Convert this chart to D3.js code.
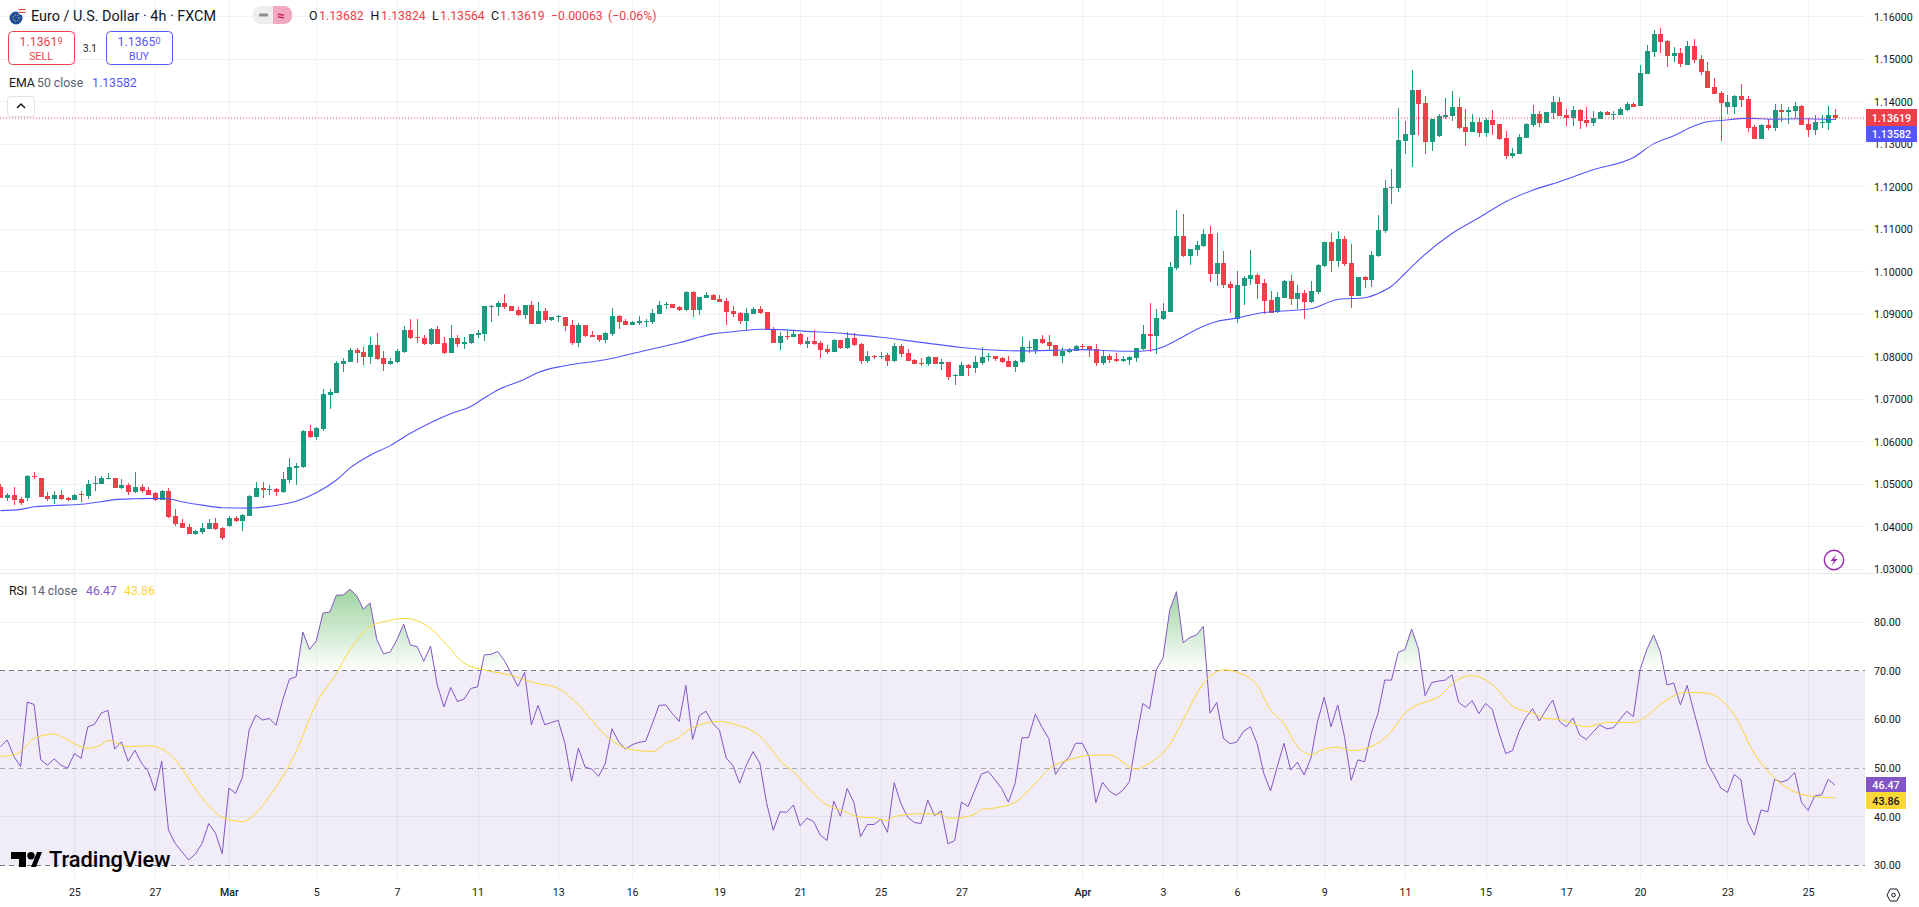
<!DOCTYPE html>
<html>
<head>
<meta charset="utf-8">
<title>EUR/USD 4h</title>
<script src="https://cdnjs.cloudflare.com/ajax/libs/d3/7.8.5/d3.min.js"></script>
<style>
html, body { margin: 0; padding: 0; background: #fff; overflow: hidden; }
svg { display: block; font-family: Roboto, sans-serif; }
</style>
</head>
<body>
<svg id="chart"></svg>
<script>
// candle values, one entry per 4h bar
const opens = [
1.0493,1.0467,1.0476,1.0465,1.0468,1.0520,1.0516,1.0472,1.0465,1.0474,
1.0467,1.0462,1.0477,1.0472,1.0501,1.0500,1.0512,1.0516,1.0491,1.0498,
1.0481,1.0493,1.0486,1.0479,1.0462,1.0484,1.0425,1.0408,1.0399,1.0382,
1.0387,1.0394,1.0408,1.0397,1.0401,1.0420,1.0413,1.0425,1.0469,1.0491,
1.0486,1.0488,1.0481,1.0509,1.0538,1.0540,1.0626,1.0612,1.0630,1.0710,
1.0715,1.0783,1.0788,1.0816,1.0811,1.0800,1.0828,1.0797,1.0783,1.0788,
1.0811,1.0863,1.0847,1.0844,1.0830,1.0866,1.0833,1.0809,1.0844,1.0830,
1.0833,1.0851,1.0854,1.0917,1.0917,1.0927,1.0920,1.0910,1.0899,1.0922,
1.0877,1.0908,1.0887,1.0893,1.0894,1.0875,1.0833,1.0875,1.0851,1.0851,
1.0840,1.0854,1.0896,1.0884,1.0875,1.0880,1.0883,1.0882,1.0901,1.0922,
1.0924,1.0917,1.0910,1.0953,1.0910,1.0938,1.0945,1.0936,1.0931,1.0908,
1.0903,1.0884,1.0901,1.0913,1.0906,1.0866,1.0833,1.0849,1.0847,1.0854,
1.0830,1.0837,1.0833,1.0818,1.0811,1.0840,1.0821,1.0844,1.0830,1.0790,
1.0802,1.0800,1.0804,1.0790,1.0825,1.0809,1.0793,1.0786,1.0783,1.0800,
1.0783,1.0788,1.0755,1.0755,1.0781,1.0774,1.0786,1.0800,1.0802,1.0797,
1.0790,1.0776,1.0788,1.0822,1.0816,1.0842,1.0835,1.0828,1.0802,1.0811,
1.0813,1.0825,1.0825,1.0818,1.0785,1.0802,1.0795,1.0790,1.0792,1.0797,
1.0818,1.0853,1.0849,1.0889,1.0905,1.1009,1.1084,1.1037,1.1051,1.1060,
1.1088,1.0994,1.1020,1.0971,1.0889,1.0966,1.0983,1.0992,1.0973,1.0933,
1.0905,1.0938,1.0978,1.0936,1.0950,1.0929,1.0952,1.1013,1.1070,1.1025,
1.1077,1.1020,1.0943,1.0987,1.0980,1.1037,1.1096,1.1197,1.1197,1.1308,
1.1322,1.1428,1.1397,1.1306,1.1320,1.1365,1.1367,1.1388,1.1341,1.1329,
1.1353,1.1327,1.1357,1.1348,1.1315,1.1273,1.1277,1.1315,1.1346,1.1371,
1.1350,1.1374,1.1400,1.1369,1.1362,1.1381,1.1357,1.1350,1.1360,1.1376,
1.1369,1.1369,1.1381,1.1395,1.1390,1.1466,1.1517,1.1560,1.1543,1.1508,
1.1515,1.1487,1.1531,1.1501,1.1473,1.1435,1.1421,1.1388,1.1388,1.1414,
1.1407,1.1341,1.1313,1.1346,1.1339,1.1381,1.1376,1.1379,1.1390,1.1348,
1.1334,1.1350,1.1350,1.13682];
const highs = [
1.0500,1.0480,1.0493,1.0470,1.0521,1.0528,1.0516,1.0481,1.0484,1.0486,
1.0469,1.0478,1.0484,1.0509,1.0519,1.0519,1.0526,1.0516,1.0512,1.0502,
1.0528,1.0500,1.0493,1.0481,1.0486,1.0491,1.0441,1.0418,1.0406,1.0392,
1.0408,1.0418,1.0420,1.0399,1.0425,1.0425,1.0429,1.0476,1.0505,1.0505,
1.0498,1.0491,1.0528,1.0561,1.0549,1.0627,1.0640,1.0635,1.0724,1.0724,
1.0790,1.0797,1.0821,1.0821,1.0823,1.0847,1.0856,1.0814,1.0797,1.0818,
1.0873,1.0889,1.0889,1.0851,1.0868,1.0873,1.0847,1.0875,1.0851,1.0847,
1.0854,1.0863,1.0920,1.0922,1.0931,1.0948,1.0920,1.0917,1.0922,1.0931,
1.0929,1.0915,1.0894,1.0899,1.0894,1.0887,1.0880,1.0875,1.0861,1.0851,
1.0858,1.0915,1.0899,1.0889,1.0884,1.0896,1.0889,1.0913,1.0931,1.0929,
1.0924,1.0920,1.0955,1.0955,1.0941,1.0953,1.0948,1.0945,1.0938,1.0920,
1.0906,1.0915,1.0917,1.0920,1.0906,1.0870,1.0858,1.0861,1.0861,1.0856,
1.0847,1.0863,1.0837,1.0828,1.0842,1.0840,1.0858,1.0856,1.0833,1.0814,
1.0804,1.0811,1.0809,1.0833,1.0830,1.0818,1.0795,1.0797,1.0802,1.0800,
1.0795,1.0788,1.0760,1.0788,1.0783,1.0802,1.0823,1.0809,1.0802,1.0800,
1.0802,1.0793,1.0847,1.0838,1.0842,1.0851,1.0851,1.0828,1.0823,1.0820,
1.0827,1.0830,1.0825,1.0830,1.0813,1.0806,1.0809,1.0802,1.0802,1.0820,
1.0875,1.0926,1.0912,1.0926,1.1023,1.1145,1.1135,1.1053,1.1072,1.1100,
1.1107,1.1091,1.1049,1.0978,1.1001,1.0990,1.1051,1.0997,1.0983,1.0954,
1.0952,1.0980,1.0992,1.0969,1.0957,1.0978,1.1018,1.1070,1.1091,1.1095,
1.1084,1.1065,1.0987,1.0990,1.1049,1.1133,1.1216,1.1242,1.1386,1.1355,
1.1475,1.1428,1.1414,1.1360,1.1371,1.1409,1.1426,1.1409,1.1383,1.1371,
1.1362,1.1362,1.1381,1.1348,1.1331,1.1291,1.1324,1.1350,1.1393,1.1379,
1.1376,1.1414,1.1411,1.1383,1.1390,1.1383,1.1388,1.1379,1.1379,1.1379,
1.1379,1.1388,1.1400,1.1400,1.1487,1.1534,1.1569,1.1574,1.1545,1.1529,
1.1527,1.1543,1.1548,1.1510,1.1494,1.1456,1.1426,1.1416,1.1416,1.1442,
1.1414,1.1346,1.1348,1.1360,1.1395,1.1395,1.1388,1.1400,1.1393,1.1362,
1.1369,1.1369,1.1390,1.13824];
const lows = [
1.0467,1.0461,1.0451,1.0451,1.0461,1.0513,1.0470,1.0461,1.0453,1.0462,
1.0460,1.0462,1.0458,1.0465,1.0484,1.0500,1.0512,1.0491,1.0488,1.0476,
1.0479,1.0479,1.0474,1.0460,1.0462,1.0420,1.0401,1.0397,1.0382,1.0380,
1.0382,1.0394,1.0392,1.0368,1.0399,1.0411,1.0389,1.0425,1.0469,1.0467,
1.0476,1.0472,1.0479,1.0502,1.0498,1.0538,1.0609,1.0605,1.0626,1.0677,
1.0715,1.0764,1.0788,1.0786,1.0781,1.0783,1.0793,1.0767,1.0781,1.0786,
1.0809,1.0842,1.0833,1.0828,1.0828,1.0830,1.0807,1.0809,1.0823,1.0818,
1.0830,1.0844,1.0837,1.0882,1.0896,1.0913,1.0908,1.0896,1.0889,1.0877,
1.0877,1.0882,1.0884,1.0882,1.0861,1.0828,1.0823,1.0847,1.0847,1.0835,
1.0833,1.0849,1.0866,1.0875,1.0875,1.0875,1.0870,1.0877,1.0901,1.0913,
1.0915,1.0908,1.0908,1.0894,1.0899,1.0938,1.0934,1.0929,1.0875,1.0894,
1.0877,1.0861,1.0901,1.0901,1.0863,1.0833,1.0816,1.0840,1.0847,1.0828,
1.0821,1.0828,1.0797,1.0807,1.0811,1.0818,1.0818,1.0825,1.0783,1.0786,
1.0795,1.0795,1.0778,1.0788,1.0800,1.0790,1.0783,1.0778,1.0778,1.0783,
1.0769,1.0746,1.0734,1.0755,1.0755,1.0762,1.0781,1.0790,1.0790,1.0786,
1.0776,1.0764,1.0786,1.0808,1.0807,1.0830,1.0814,1.0802,1.0785,1.0809,
1.0813,1.0818,1.0799,1.0778,1.0780,1.0785,1.0787,1.0787,1.0780,1.0787,
1.0816,1.0811,1.0806,1.0886,1.0905,1.1004,1.1034,1.1016,1.1037,1.1058,
1.0976,1.0966,1.0962,1.0903,1.0879,1.0922,1.0969,1.0936,1.0900,1.0903,
1.0903,1.0938,1.0922,1.0912,1.0889,1.0926,1.0947,1.1011,1.0999,1.1011,
1.1013,1.0914,1.0943,1.0962,1.0964,1.1034,1.1091,1.1159,1.1188,1.1277,
1.1247,1.1322,1.1277,1.1284,1.1317,1.1360,1.1355,1.1336,1.1296,1.1329,
1.1317,1.1317,1.1322,1.1310,1.1266,1.1268,1.1277,1.1315,1.1341,1.1341,
1.1350,1.1360,1.1367,1.1343,1.1343,1.1336,1.1341,1.1343,1.1360,1.1369,
1.1357,1.1369,1.1379,1.1388,1.1390,1.1466,1.1505,1.1515,1.1482,1.1494,
1.1482,1.1487,1.1491,1.1463,1.1433,1.1418,1.1308,1.1371,1.1371,1.1388,
1.1329,1.1313,1.1313,1.1334,1.1331,1.1353,1.1348,1.1362,1.1346,1.1317,
1.1322,1.1339,1.1334,1.13564];
const closes = [
1.0467,1.0476,1.0462,1.0455,1.0519,1.0518,1.0470,1.0465,1.0474,1.0465,
1.0463,1.0476,1.0474,1.0500,1.0502,1.0514,1.0516,1.0491,1.0498,1.0481,
1.0493,1.0484,1.0476,1.0462,1.0484,1.0422,1.0406,1.0397,1.0382,1.0389,
1.0397,1.0408,1.0394,1.0373,1.0420,1.0413,1.0427,1.0472,1.0491,1.0486,
1.0488,1.0481,1.0512,1.0540,1.0542,1.0625,1.0612,1.0633,1.0713,1.0717,
1.0786,1.0790,1.0816,1.0809,1.0800,1.0828,1.0795,1.0783,1.0790,1.0814,
1.0863,1.0844,1.0844,1.0830,1.0866,1.0830,1.0809,1.0844,1.0830,1.0835,
1.0854,1.0856,1.0920,1.0920,1.0927,1.0917,1.0908,1.0899,1.0922,1.0877,
1.0908,1.0887,1.0894,1.0896,1.0873,1.0833,1.0875,1.0849,1.0847,1.0840,
1.0856,1.0896,1.0882,1.0875,1.0882,1.0884,1.0884,1.0903,1.0922,1.0924,
1.0915,1.0910,1.0953,1.0910,1.0941,1.0945,1.0934,1.0929,1.0906,1.0901,
1.0884,1.0903,1.0913,1.0903,1.0863,1.0833,1.0849,1.0847,1.0854,1.0830,
1.0837,1.0830,1.0816,1.0811,1.0840,1.0821,1.0844,1.0828,1.0790,1.0802,
1.0800,1.0802,1.0790,1.0825,1.0807,1.0790,1.0783,1.0783,1.0800,1.0783,
1.0788,1.0753,1.0757,1.0781,1.0774,1.0788,1.0800,1.0802,1.0795,1.0788,
1.0776,1.0790,1.0823,1.0823,1.0842,1.0833,1.0825,1.0802,1.0813,1.0816,
1.0825,1.0823,1.0816,1.0785,1.0802,1.0792,1.0790,1.0795,1.0799,1.0820,
1.0853,1.0849,1.0891,1.0907,1.1011,1.1084,1.1037,1.1053,1.1063,1.1088,
1.0994,1.1020,1.0969,1.0962,1.0969,1.0985,1.0992,1.0971,1.0931,1.0903,
1.0940,1.0978,1.0936,1.0950,1.0929,1.0955,1.1016,1.1070,1.1025,1.1077,
1.1018,1.0943,1.0987,1.0980,1.1039,1.1098,1.1197,1.1199,1.1310,1.1324,
1.1428,1.1395,1.1306,1.1360,1.1367,1.1369,1.1388,1.1339,1.1329,1.1353,
1.1327,1.1357,1.1346,1.1313,1.1273,1.1280,1.1317,1.1348,1.1371,1.1350,
1.1376,1.1400,1.1367,1.1362,1.1381,1.1355,1.1350,1.1362,1.1376,1.1369,
1.1371,1.1383,1.1395,1.1388,1.1468,1.1520,1.1560,1.1541,1.1508,1.1515,
1.1489,1.1531,1.1498,1.1470,1.1433,1.1418,1.1397,1.1400,1.1414,1.1404,
1.1339,1.1313,1.1346,1.1339,1.1381,1.1376,1.1381,1.1390,1.1346,1.1334,
1.1353,1.1353,1.1369,1.13619];

// EMA 50, read at the bars listed in emaBars
const emaBars = [0,3,5,8,12,15,17,20,23,25,27,30,33,37,40,44,47,50,52,55,58,61,64,67,70,72,74,78,80,84,90,96,101,106,109,113,116,119,126,131,137,143,149,152,158,161,164,168,171,173,175,179,181,184,187,193,195,199,203,205,207,209,211,216,220,224,228,232,237,243,246,249,252,254,256,260,264,268,273];
const emaValues = [1.0438,1.0441,1.0447,1.0450,1.0453,1.0459,1.0464,1.0466,1.0467,1.0466,1.0459,1.0451,1.0445,1.0444,1.0448,1.0460,1.0480,1.0510,1.0538,1.0568,1.0591,1.0620,1.0645,1.0666,1.0683,1.0703,1.0722,1.0747,1.0763,1.0779,1.0793,1.0815,1.0833,1.0854,1.0859,1.0865,1.0864,1.0861,1.0854,1.0846,1.0834,1.0822,1.0815,1.0814,1.0816,1.0817,1.0815,1.0813,1.0815,1.0823,1.0839,1.0872,1.0883,1.0891,1.0902,1.0910,1.0913,1.0935,1.0939,1.0949,1.0966,1.0996,1.1027,1.1090,1.1127,1.1165,1.1192,1.1212,1.1240,1.1269,1.1301,1.1320,1.1343,1.1353,1.1356,1.1361,1.1359,1.1360,1.13582];

// RSI 14, one entry per bar
const rsiValues = [
54.4,55.8,52.4,50.3,63.6,63.1,51.7,50.6,51.9,50.6,
50.0,53.0,52.0,58.5,59.0,61.3,61.9,53.9,55.4,51.4,
53.7,51.0,49.3,45.3,51.4,37.3,34.5,32.8,31.1,32.3,
34.5,38.6,36.6,32.4,45.9,44.8,48.1,57.8,60.9,59.9,
60.2,58.8,64.0,68.3,68.8,78.0,74.4,76.2,81.9,82.1,
85.6,85.6,86.8,85.5,82.7,84.0,76.5,73.5,73.9,76.4,
79.6,75.3,75.0,72.0,75.1,67.1,62.6,66.6,63.7,64.2,
66.4,66.7,73.3,73.4,74.0,72.1,69.5,66.8,69.7,58.9,
62.9,58.9,59.4,59.8,55.1,47.3,54.1,50.2,49.8,48.3,
50.9,58.1,55.4,53.9,54.8,55.3,55.5,59.1,62.9,63.0,
61.2,59.6,67.0,55.9,60.8,61.7,59.2,57.8,52.1,50.5,
46.9,50.6,53.4,51.0,42.9,37.2,41.0,40.9,42.4,38.1,
39.7,39.0,36.2,35.1,43.2,40.1,45.8,42.9,35.9,38.4,
38.4,39.5,36.8,47.0,42.7,39.9,38.8,38.6,43.4,40.2,
41.2,34.4,35.1,43.0,42.1,45.5,48.8,49.3,47.6,45.8,
43.0,46.9,56.2,56.3,61.1,58.4,56.1,48.7,50.8,52.2,
55.1,55.1,52.4,42.9,47.1,45.3,44.4,45.4,47.2,55.8,
63.3,62.2,70.2,72.7,82.5,86.3,75.8,76.9,77.4,79.2,
61.3,63.5,56.1,55.0,55.4,57.6,58.5,55.1,48.9,45.3,
50.3,55.1,49.6,51.2,48.6,52.0,59.6,64.6,58.5,63.0,
56.5,47.5,51.7,51.3,57.2,61.3,68.1,68.1,73.8,74.4,
78.6,74.6,64.9,67.6,67.9,68.1,69.2,63.5,62.5,63.9,
61.2,63.3,62.1,57.2,53.0,53.6,57.6,60.4,62.2,59.7,
62.0,64.0,59.6,58.5,60.3,56.8,55.9,57.4,58.9,58.1,
58.3,60.0,61.7,60.6,70.3,74.4,77.4,74.0,67.1,67.5,
63.0,67.0,61.6,56.5,51.0,48.6,45.9,45.0,48.7,47.6,
39.0,36.2,41.4,41.0,47.7,47.1,47.6,49.1,43.0,41.3,
44.3,44.5,47.7,46.47];

// RSI moving average, read at the bars listed in rsiMaBars
const rsiMaBars = [0,1,3,5,8,9,11,13,15,16,19,22,24,26,30,33,36,38,40,44,47,50,52,55,58,60,64,66,69,72,76,79,83,86,90,93,95,97,99,101,102,104,107,109,113,115,116,118,120,123,125,128,130,132,133,137,140,141,142,145,146,148,151,154,156,159,162,165,169,171,174,176,179,182,185,187,189,191,193,195,197,199,201,205,207,209,210,214,217,219,222,225,228,230,232,236,239,243,245,247,251,254,258,261,263,266,269,273];
const rsiMaValues = [52.4,52.5,53.4,56.1,57.0,56.5,55.0,54.1,54.8,55.7,54.4,54.6,54.0,51.7,43.9,39.9,39.0,40.7,44.1,53.4,63.3,69.5,74.3,79.1,80.4,80.8,78.8,76.0,71.6,70.2,69.1,67.7,66.4,63.0,56.8,54.1,53.6,53.4,55.1,56.3,57.5,58.9,59.6,59.1,56.5,53.4,51.5,49.3,46.2,42.4,41.4,39.9,39.8,39.2,40.0,40.6,40.5,39.7,39.7,40.5,41.5,41.8,43.0,46.9,49.8,51.7,52.6,52.7,49.8,51.1,54.8,59.9,67.4,70.2,69.2,67.1,62.0,59.2,54.4,52.8,53.9,54.3,53.6,55.1,57.6,61.3,62.4,64.7,68.3,69.0,67.2,62.8,61.3,60.2,60.0,58.5,59.4,59.4,60.7,63.1,65.6,65.4,61.0,53.0,49.4,45.8,44.3,43.86];

// time axis and value axes
const timeTickBars = [11,23,34,47,59,71,83,94,107,119,131,143,161,173,184,197,209,221,233,244,257,269];
const timeTickLabels = ["25","27","Mar","5","7","11","13","16","19","21","25","27","Apr","3","6","9","11","15","17","20","23","25"];
const priceTicks = [1.03,1.04,1.05,1.06,1.07,1.08,1.09,1.10,1.11,1.12,1.13,1.14,1.15,1.16];
const rsiTicks = [30,40,50,60,70,80];
const rsiLevels = [70,50,30];

const width = 1919;
const height = 907;
const paneRight = 1865;
const green = "#1b9a80";
const red = "#ef3f4a";
const blue = "#5555ff";
const purple = "#8455c6";
const yellow = "#fdd835";
const gridColor = "#f1f2f4";
const textColor = "#131722";

const svg = d3.select("#chart").attr("width", width).attr("height", height)
              .attr("viewBox", `0 0 ${width} ${height}`);

const x = d3.scaleLinear().domain([0, closes.length - 1]).range([0.44, 1835]);
const yPrice = d3.scaleLinear().domain([1.03, 1.16]).range([569.3, 16.8]);
const yRsi = d3.scaleLinear().domain([30, 80]).range([865.3, 622.3]);

const bars = closes.map((c, i) => ({ i, o: opens[i], h: highs[i], l: lows[i], c }));

// grid
const grid = svg.append("g").attr("shape-rendering", "crispEdges").attr("stroke", gridColor);
grid.selectAll(".vgrid").data(timeTickBars).enter().append("line")
    .attr("x1", d => Math.round(x(d)) + 0.5).attr("x2", d => Math.round(x(d)) + 0.5)
    .attr("y1", 0).attr("y2", 880);
grid.selectAll(".pgrid").data(priceTicks).enter().append("line")
    .attr("x1", 0).attr("x2", paneRight)
    .attr("y1", d => yPrice(d)).attr("y2", d => yPrice(d));

// pane separator
svg.append("line").attr("x1", 0).attr("x2", width).attr("y1", 573.5).attr("y2", 573.5)
   .attr("stroke", "#e9eaee").attr("stroke-width", 1);

// candles
const candles = svg.append("g").attr("shape-rendering", "crispEdges");
candles.selectAll("line").data(bars).enter().append("line")
    .attr("x1", d => Math.round(x(d.i)) + 0.5)
    .attr("x2", d => Math.round(x(d.i)) + 0.5)
    .attr("y1", d => yPrice(d.h))
    .attr("y2", d => yPrice(d.l))
    .attr("stroke", d => d.c >= d.o ? green : red);
candles.selectAll("rect").data(bars).enter().append("rect")
    .attr("x", d => Math.round(x(d.i)) - 2)
    .attr("width", 5)
    .attr("y", d => yPrice(Math.max(d.o, d.c)))
    .attr("height", d => Math.max(1, Math.abs(yPrice(d.o) - yPrice(d.c))))
    .attr("fill", d => d.c >= d.o ? green : red);

// EMA
const emaLine = d3.line().x(d => x(d[0])).y(d => yPrice(d[1])).curve(d3.curveMonotoneX);
svg.append("path").datum(d3.zip(emaBars, emaValues))
   .attr("d", emaLine).attr("fill", "none").attr("stroke", blue).attr("stroke-width", 1.1);

// last price line
svg.append("line").attr("x1", 0).attr("x2", paneRight)
   .attr("y1", yPrice(1.13619)).attr("y2", yPrice(1.13619))
   .attr("stroke", red).attr("stroke-dasharray", "1 2");

// RSI pane: band, overbought fill, levels, lines
svg.append("rect").attr("x", 0).attr("width", paneRight)
   .attr("y", yRsi(70)).attr("height", yRsi(30) - yRsi(70))
   .attr("fill", "#7e57c2").attr("fill-opacity", 0.115);

const rsiGrid = svg.append("g").attr("shape-rendering", "crispEdges").attr("stroke", "#000").attr("stroke-opacity", 0.05);
rsiGrid.selectAll("line").data(rsiTicks.filter(d => !rsiLevels.includes(d))).enter().append("line")
    .attr("x1", 0).attr("x2", paneRight)
    .attr("y1", d => yRsi(d)).attr("y2", d => yRsi(d));

const defs = svg.append("defs");
const grad = defs.append("linearGradient").attr("id", "obFill")
    .attr("gradientUnits", "userSpaceOnUse")
    .attr("x1", 0).attr("x2", 0).attr("y1", yRsi(87)).attr("y2", yRsi(70));
grad.append("stop").attr("offset", "0").attr("stop-color", "#4caf50").attr("stop-opacity", 0.55);
grad.append("stop").attr("offset", "1").attr("stop-color", "#4caf50").attr("stop-opacity", 0);
defs.append("clipPath").attr("id", "aboveOb").append("rect")
    .attr("x", 0).attr("y", 574).attr("width", paneRight).attr("height", yRsi(70) - 574);

const rsiArea = d3.area().x((d, i) => x(i)).y0(yRsi(70)).y1(d => yRsi(d));
svg.append("path").datum(rsiValues).attr("d", rsiArea)
   .attr("fill", "url(#obFill)").attr("clip-path", "url(#aboveOb)");

svg.append("g").selectAll("line").data(rsiLevels).enter().append("line")
    .attr("x1", 0).attr("x2", paneRight)
    .attr("y1", d => yRsi(d)).attr("y2", d => yRsi(d))
    .attr("stroke", "#787b86")
    .attr("stroke-opacity", d => d === 50 ? 0.6 : 1)
    .attr("stroke-dasharray", "5 4")
    .attr("shape-rendering", "crispEdges");

const rsiLine = d3.line().x((d, i) => x(i)).y(d => yRsi(d));
svg.append("path").datum(rsiValues).attr("d", rsiLine)
   .attr("fill", "none").attr("stroke", purple).attr("stroke-width", 1);
const maLine = d3.line().x(d => x(d[0])).y(d => yRsi(d[1])).curve(d3.curveMonotoneX);
svg.append("path").datum(d3.zip(rsiMaBars, rsiMaValues)).attr("d", maLine)
   .attr("fill", "none").attr("stroke", yellow).attr("stroke-width", 1);

// axes
function styleAxis(g, size) {
    g.select(".domain").remove();
    g.selectAll(".tick line").remove();
    g.selectAll("text").attr("fill", textColor).attr("font-size", size).attr("font-family", "Roboto, sans-serif");
}
svg.append("g").attr("transform", `translate(0, 885)`)
   .call(d3.axisBottom(x).tickValues(timeTickBars).tickSize(0)
           .tickFormat((d, i) => timeTickLabels[i]))
   .call(g => styleAxis(g, 10.6))
   .call(g => g.selectAll("text").attr("font-weight", (d, i) => isNaN(+timeTickLabels[i]) ? 500 : 400));
svg.append("g").attr("transform", `translate(1871, 0)`)
   .call(d3.axisRight(yPrice).tickValues(priceTicks).tickSize(0).tickFormat(d3.format(".5f")))
   .call(g => styleAxis(g, 10.7));
svg.append("g").attr("transform", `translate(1871, 0)`)
   .call(d3.axisRight(yRsi).tickValues(rsiTicks).tickSize(0).tickFormat(d3.format(".2f")))
   .call(g => styleAxis(g, 10.7));

// value tags on the axes
function tag(yTop, h, w, bg, fg, label) {
    svg.append("rect").attr("x", 1866).attr("y", yTop).attr("width", w).attr("height", h).attr("fill", bg);
    svg.append("text").attr("x", 1866 + w / 2).attr("y", yTop + h / 2 + 4).attr("text-anchor", "middle")
       .attr("font-size", 10.7).attr("font-weight", 500).attr("fill", fg).text(label);
}
tag(109, 17, 51, red, "#fff", "1.13619");
tag(126, 16, 51, blue, "#fff", "1.13582");
tag(777, 15, 40, purple, "#fff", "46.47");
tag(792, 17, 40, yellow, textColor, "43.86");

// header text
function txt(xp, yp, s, size, fill, weight) {
    return svg.append("text").attr("x", xp).attr("y", yp).attr("font-size", size)
              .attr("fill", fill).attr("font-weight", weight || 400).text(s);
}
txt(31, 21, "Euro / U.S. Dollar · 4h · FXCM", 14.4, textColor);
[[309, "O"], [370.5, "H"], [432, "L"], [491, "C"]].forEach(d => txt(d[0], 20, d[1], 12.3, textColor));
[[319, "1.13682"], [381, "1.13824"], [440, "1.13564"], [500, "1.13619"], [551, "−0.00063"], [608, "(−0.06%)"]]
    .forEach(d => txt(d[0], 20, d[1], 12.3, red));

// symbol icon
svg.append("circle").attr("cx", 16).attr("cy", 18).attr("r", 6.5).attr("fill", "#1f4e9c");
svg.append("circle").attr("cx", 16).attr("cy", 18).attr("r", 3).attr("fill", "none").attr("stroke", "#f5d547").attr("stroke-dasharray", "1 1.5");
svg.append("circle").attr("cx", 22).attr("cy", 11).attr("r", 4).attr("fill", "#f4f4f4");
svg.append("path").attr("d", "M18.5 9.5h7M18.5 12.5h7").attr("stroke", "#e0424a").attr("stroke-width", 1.2);

// market status pill
svg.append("rect").attr("x", 253).attr("y", 6).attr("width", 39).attr("height", 18).attr("rx", 8).attr("fill", "#eeeeee");
svg.append("path").attr("d", "M273 6h11a8 8 0 0 1 8 8v2a8 8 0 0 1 -8 8h-11z").attr("fill", "#f2a9c0");
svg.append("rect").attr("x", 259).attr("y", 13.5).attr("width", 9).attr("height", 3).attr("rx", 1).attr("fill", "#8a8d96");
txt(277, 20, "≈", 13, "#c2185b", 700);

// sell and buy buttons
function button(xp, w, color, price, small, label) {
    svg.append("rect").attr("x", xp + 0.5).attr("y", 31.5).attr("width", w).attr("height", 33)
       .attr("rx", 4).attr("fill", "#fff").attr("stroke", color);
    const t = svg.append("text").attr("x", xp + w / 2).attr("y", 46).attr("text-anchor", "middle")
       .attr("font-size", 12.3).attr("fill", color);
    t.append("tspan").text(price);
    t.append("tspan").attr("font-size", 9).attr("dy", -2).text(small);
    svg.append("text").attr("x", xp + w / 2).attr("y", 60).attr("text-anchor", "middle")
       .attr("font-size", 10.6).attr("fill", color).text(label);
}
button(8, 66, red, "1.1361", "9", "SELL");
button(106, 66, blue, "1.1365", "0", "BUY");
txt(90, 52, "3.1", 10, textColor).attr("text-anchor", "middle");

// indicator legends
txt(9, 87, "EMA", 12.3, textColor);
txt(37, 87, "50 close", 12.3, "#5d606b");
txt(92, 87, "1.13582", 12.3, blue);
txt(9, 595, "RSI", 12.3, textColor);
txt(31, 595, "14 close", 12.3, "#5d606b");
txt(86, 595, "46.47", 12.3, purple);
txt(124, 595, "43.86", 12.3, yellow);

// collapse button
svg.append("rect").attr("x", 7.5).attr("y", 96.5).attr("width", 27).attr("height", 20).attr("rx", 3)
   .attr("fill", "#fff").attr("stroke", "#e0e3eb");
svg.append("path").attr("d", "M17 108l4 -4l4 4").attr("fill", "none").attr("stroke", textColor).attr("stroke-width", 1.5);

// lightning badge
svg.append("circle").attr("cx", 1834).attr("cy", 560).attr("r", 9.7).attr("fill", "#fff").attr("stroke", "#9c27b0").attr("stroke-width", 1.4);
svg.append("path").attr("d", "M1836.5 554l-6 7h3.5l-2.5 5l6 -7h-3.5z").attr("fill", "#9c27b0");

// settings icon
svg.append("path").attr("d", "M1887 895l3.2 -6h6.6l3.2 6l-3.2 6h-6.6z").attr("fill", "none").attr("stroke", textColor);
svg.append("circle").attr("cx", 1893.5).attr("cy", 895).attr("r", 1.8).attr("fill", "none").attr("stroke", textColor);

// watermark
svg.append("path").attr("d", "M11 852h15v15h-7v-8h-8z").attr("fill", "#000");
svg.append("circle").attr("cx", 31).attr("cy", 855.7).attr("r", 3.7).attr("fill", "#000");
svg.append("path").attr("d", "M31 867l6 -15h5l-6 15z").attr("fill", "#000");
txt(49, 867, "TradingView", 21.8, "#000", 500);
</script>
</body>
</html>
